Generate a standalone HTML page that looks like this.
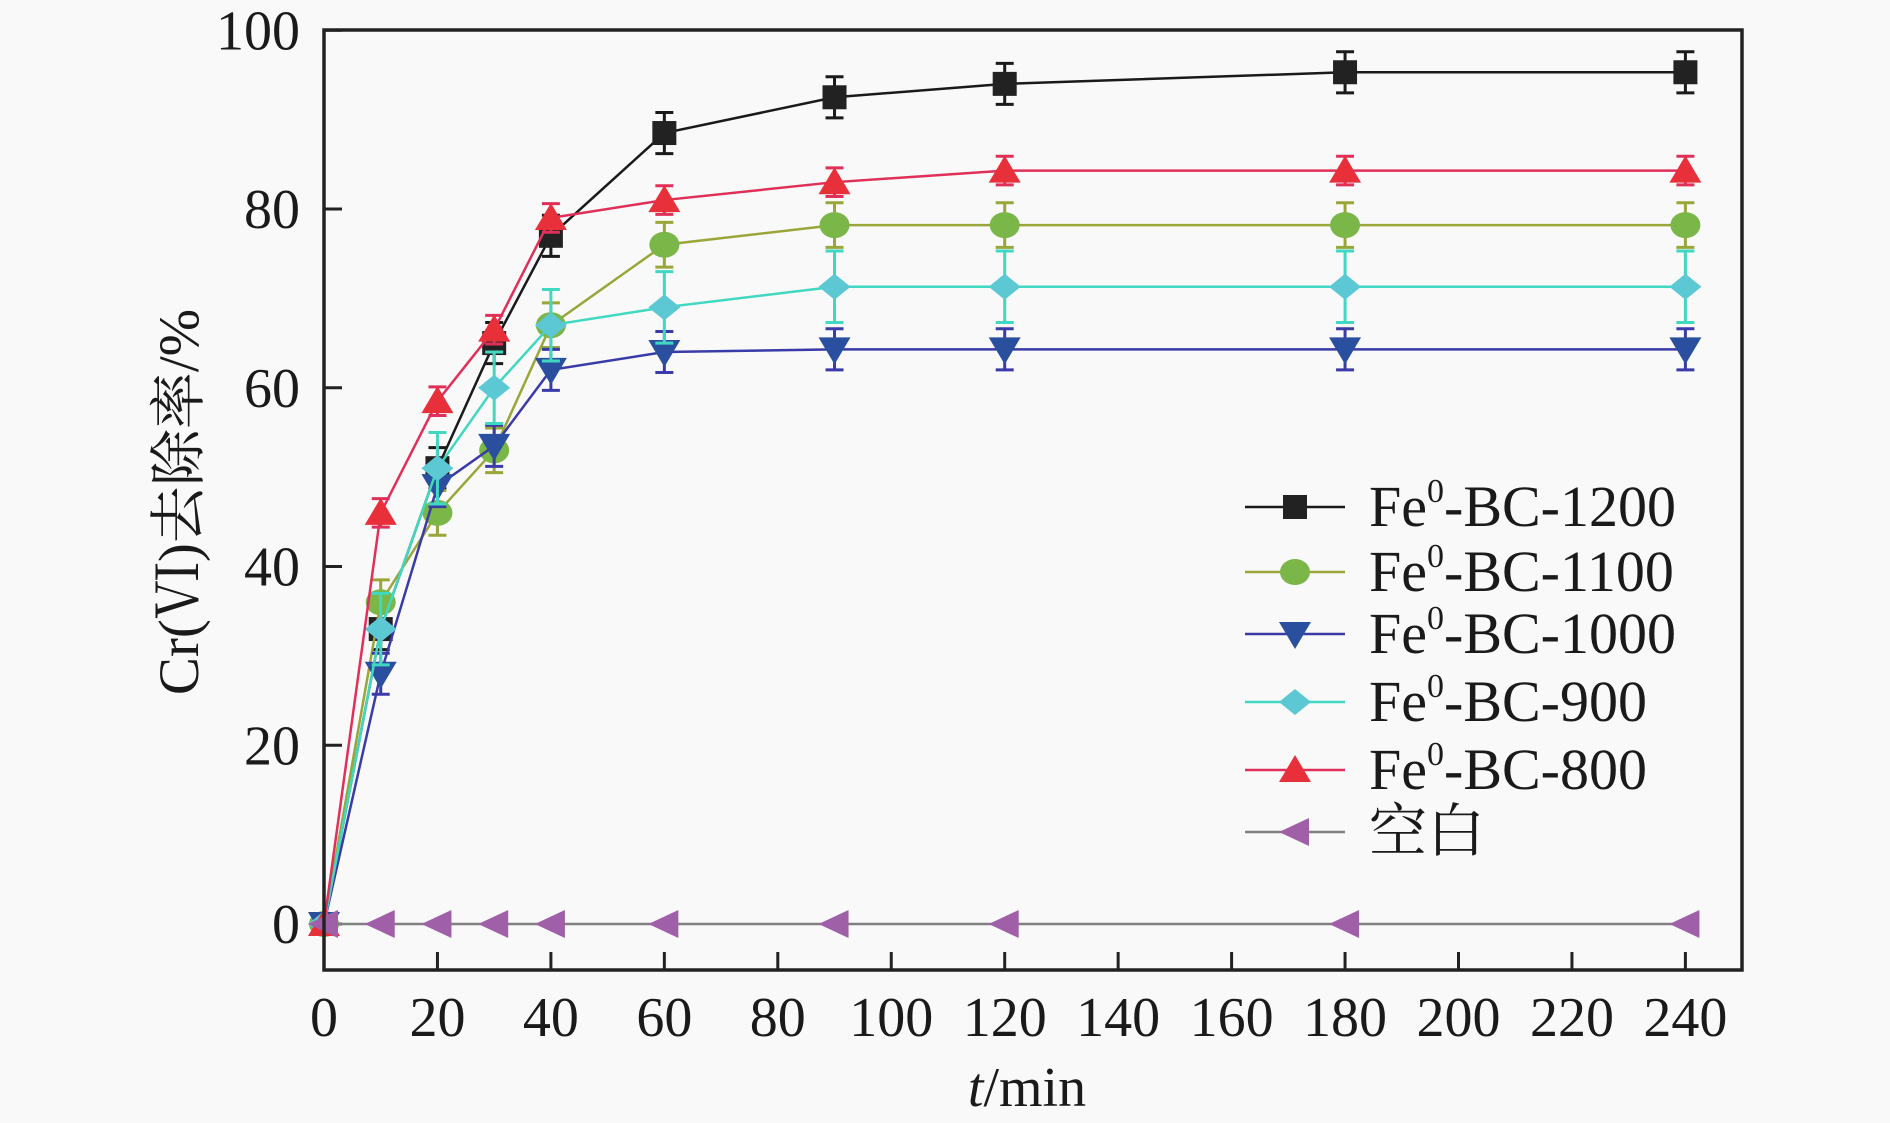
<!DOCTYPE html>
<html><head><meta charset="utf-8"><style>
html,body{margin:0;padding:0;background:#f9f9f9;}
svg{display:block;}
text{font-family:"Liberation Serif","Noto Serif CJK SC",serif;fill:#1a1a1a;}
</style></head><body>
<svg id="s" width="1890" height="1123" xmlns="http://www.w3.org/2000/svg"></svg>
<script>
const s=document.getElementById('s');
const X=v=>324+v*113.45/20, Y=v=>924-v*8.9375;
let h='<rect width="1890" height="1123" fill="#f9f9f9"/>';
const xs=[0,10,20,30,40,60,90,120,180,240];
const S=[
 {n:'1200',lc:'#1a1a1a',mc:'#222',m:'sq',d:[0,33,51,65,77,88.5,92.5,94,95.3,95.3],e:2.3},
 {n:'1100',lc:'#9aa63a',mc:'#7ab648',m:'ci',d:[0,36,46,53,67,76,78.2,78.2,78.2,78.2],e:2.5},
 {n:'1000',lc:'#3a3aa8',mc:'#2b4f9f',m:'dn',d:[0,28,49,53.5,62,64,64.3,64.3,64.3,64.3],e:2.3},
 {n:'900',lc:'#40d8c0',mc:'#5bc8d4',m:'di',d:[0,33,51,60,67,69,71.3,71.3,71.3,71.3],e:4},
 {n:'800',lc:'#e0305a',mc:'#e8303a',m:'up',d:[0,46,58.5,66.5,79,81,83,84.3,84.3,84.3],e:1.6},
 {n:'b',lc:'#808080',mc:'#a060a8',m:'lf',d:[0,0,0,0,0,0,0,0,0,0],e:0}
];
function mk(t,x,y,c){
 if(t=='sq')return `<rect x="${x-12}" y="${y-12}" width="24" height="24" fill="${c}"/>`;
 if(t=='ci')return `<ellipse cx="${x}" cy="${y}" rx="15" ry="13" fill="${c}"/>`;
 if(t=='dn')return `<polygon points="${x-16},${y-12} ${x+16},${y-12} ${x},${y+15}" fill="${c}"/>`;
 if(t=='up')return `<polygon points="${x-16},${y+12} ${x+16},${y+12} ${x},${y-15}" fill="${c}"/>`;
 if(t=='di')return `<polygon points="${x-16},${y} ${x},${y-13} ${x+16},${y} ${x},${y+13}" fill="${c}"/>`;
 if(t=='lf')return `<polygon points="${x+14},${y-14} ${x+14},${y+14} ${x-16},${y}" fill="${c}"/>`;}
for(let v=0;v<=240;v+=20){h+=`<line x1="${X(v)}" y1="970" x2="${X(v)}" y2="952" stroke="#222" stroke-width="3"/><text x="${X(v)}" y="1036" font-size="56" text-anchor="middle">${v}</text>`;}
for(let v=0;v<=100;v+=20){h+=`<line x1="324" y1="${Y(v)}" x2="342" y2="${Y(v)}" stroke="#222" stroke-width="3"/><text x="300" y="${Y(v)+19}" font-size="56" text-anchor="end">${v}</text>`;}
S.forEach(o=>{let p=xs.map((x,i)=>X(x)+','+Y(o.d[i])).join(' ');
 h+=`<polyline points="${p}" fill="none" stroke="${o.lc}" stroke-width="2.5"/>`;
 xs.forEach((x,i)=>{if(o.e&&i>0){const a=Y(o.d[i]+o.e),b=Y(o.d[i]-o.e),px=X(x);
  h+=`<g stroke="${o.lc}" stroke-width="3"><line x1="${px}" y1="${a}" x2="${px}" y2="${b}"/><line x1="${px-9}" y1="${a}" x2="${px+9}" y2="${a}"/><line x1="${px-9}" y1="${b}" x2="${px+9}" y2="${b}"/></g>`;}
  h+=mk(o.m,X(x),Y(o.d[i]),o.mc);});});
h+=`<rect x="324" y="30" width="1418" height="940" fill="none" stroke="#222" stroke-width="3.5"/>`;
const ly=[507,572,634,702,770,832];
S.forEach((o,i)=>{const y=ly[i];h+=`<line x1="1245" y1="${y}" x2="1345" y2="${y}" stroke="${o.lc}" stroke-width="2.5"/>`+mk(o.m,1295,y,o.mc);
 h+= o.n=='b'?`<text x="1369" y="${y+19}" font-size="58">空白</text>`:`<text x="1369" y="${y+19}" font-size="58">Fe<tspan font-size="34" dy="-24">0</tspan><tspan dy="24">-BC-${o.n}</tspan></text>`;});
h+=`<text x="1027" y="1106" font-size="56" text-anchor="middle"><tspan font-style="italic">t</tspan>/min</text>`;
h+=`<text transform="translate(198,502) rotate(-90)" font-size="57" text-anchor="middle">Cr(Ⅵ)去除率/%</text>`;
s.innerHTML=h;
</script>
</body></html>
